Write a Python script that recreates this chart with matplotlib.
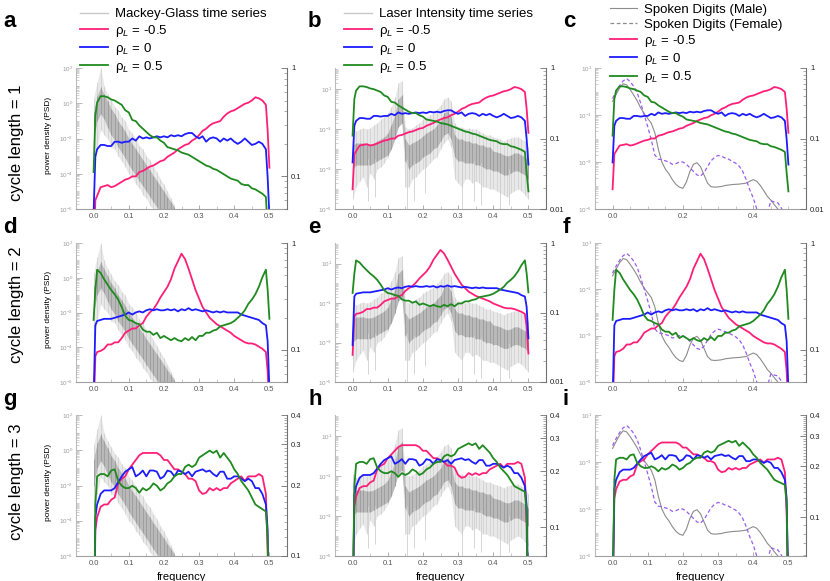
import numpy as np
import matplotlib
matplotlib.use("Agg")
import matplotlib.pyplot as plt
from matplotlib.lines import Line2D
from matplotlib.ticker import FixedLocator, FuncFormatter, NullFormatter, LogLocator, MultipleLocator

plt.rcParams['font.family'] = ['Liberation Sans', 'DejaVu Sans']
plt.rcParams['mathtext.fontset'] = 'custom'
plt.rcParams['mathtext.rm'] = 'Liberation Sans'
plt.rcParams['mathtext.it'] = 'Liberation Sans:italic'
plt.rcParams['mathtext.bf'] = 'Liberation Sans:bold'

# ---- reservoir PSD curves (dB, relative), same curves in every column of a row
freq = [0.0, 0.005] + [round(0.01 * i, 2) for i in range(1, 50)] + [0.495, 0.5]

# cycle length = 1
r1_neg = [-17.2, -12.2,
          -11.8, -11.0, -10.9, -10.8, -11.0, -10.9, -10.7, -10.5, -10.3,
          -10.2, -10.0, -10.0, -9.6, -9.5, -9.3, -9.1, -9.0, -8.8, -8.6,
          -8.5, -8.2, -8.0, -7.8, -7.5, -7.3, -7.1, -7.0, -6.7, -6.5,
          -6.2, -5.8, -5.6, -5.3, -5.1, -5.0, -4.9, -4.5, -4.2, -4.0,
          -3.9, -3.7, -3.5, -3.3, -3.2, -3.0, -2.7, -2.8, -3.0, -3.4,
          -5.8, -9.2]
r1_zero = [-13.4, -8.2,
           -7.5, -7.1, -7.1, -7.2, -7.2, -6.8, -6.8, -6.9, -6.8,
           -6.8, -6.5, -6.7, -6.3, -6.5, -6.4, -6.5, -6.4, -6.3, -6.4,
           -6.3, -6.4, -6.2, -6.3, -6.2, -6.3, -6.1, -6.0, -6.0, -6.3,
           -6.5, -6.3, -6.8, -6.5, -6.4, -6.5, -6.8, -6.5, -6.7, -6.5,
           -6.8, -7.0, -6.8, -6.5, -6.8, -7.1, -7.0, -6.8, -7.0, -7.5,
           -10.1, -13.7]
r1_pos = [-9.6, -4.4,
          -3.2, -2.6, -2.6, -2.7, -2.9, -3.0, -3.2, -3.4, -3.9,
          -4.1, -4.8, -4.9, -5.3, -5.6, -5.9, -6.2, -6.4, -6.4, -6.7,
          -6.9, -7.3, -7.4, -7.5, -7.6, -7.8, -7.9, -8.0, -8.2, -8.4,
          -8.6, -8.8, -9.0, -9.1, -9.3, -9.4, -9.6, -9.8, -10.0, -10.2,
          -10.3, -10.4, -10.7, -10.8, -10.8, -11.1, -11.2, -11.4, -11.6, -11.9,
          -14.9, -17.5]

# cycle length = 2
r2_neg = [-16.1, -10.6,
          -10.2, -10.1, -9.9, -9.5, -9.5, -9.3, -9.3, -8.9, -8.4,
          -8.2, -8.0, -8.0, -7.7, -7.5, -6.9, -6.5, -6.2, -5.7, -5.1,
          -4.6, -4.1, -3.4, -2.4, -1.7, -1.0, -1.5, -2.4, -3.4, -4.4,
          -5.2, -6.0, -6.5, -7.0, -7.3, -7.6, -7.8, -8.0, -8.2, -8.4,
          -8.7, -8.9, -9.1, -9.3, -9.4, -9.4, -9.5, -9.7, -9.9, -10.2,
          -12.0, -15.9]
r2_zero = [-14.7, -7.7,
           -7.3, -7.2, -7.1, -7.1, -7.1, -7.0, -6.9, -6.8, -6.7,
           -6.5, -6.7, -6.5, -6.4, -6.5, -6.3, -6.2, -6.3, -6.2, -6.3,
           -6.3, -6.2, -6.3, -6.2, -6.4, -6.2, -6.3, -6.1, -6.3, -6.2,
           -6.3, -6.4, -6.3, -6.4, -6.5, -6.4, -6.5, -6.4, -6.5, -6.5,
           -6.5, -6.5, -6.7, -6.8, -6.9, -7.0, -7.1, -7.2, -7.5, -7.7,
           -9.2, -13.7]
r2_pos = [-7.2, -4.4,
          -2.5, -2.8, -3.4, -3.9, -4.4, -4.8, -5.3, -6.0, -6.8,
          -7.2, -7.3, -7.5, -7.6, -8.1, -8.3, -8.3, -8.6, -8.4, -8.9,
          -8.7, -8.9, -9.1, -8.9, -9.1, -9.2, -8.9, -9.1, -8.8, -9.1,
          -8.7, -8.7, -8.4, -8.4, -8.2, -8.1, -7.8, -7.7, -7.6, -7.5,
          -7.3, -7.0, -6.7, -6.3, -5.7, -5.3, -4.8, -4.1, -3.2, -2.5,
          -4.4, -7.1]

# cycle length = 3
r3_neg = [-15.0, -8.9,
          -8.35, -7.9, -7.8, -7.8, -7.6, -7.5, -6.9, -6.7, -6.6,
          -6.3, -6.1, -5.9, -5.7, -5.6, -5.6, -5.6, -5.6, -5.6, -5.7,
          -5.9, -5.9, -6.1, -6.3, -6.3, -6.4, -6.5, -6.7, -6.7, -6.8,
          -7.2, -7.35, -7.3, -7.1, -7.2, -7.1, -7.2, -7.1, -7.1, -6.9,
          -6.8, -6.7, -6.6, -6.8, -6.6, -6.6, -6.6, -6.5, -6.6, -7.35,
          -9.8, -15.0]
r3_zero = [-15.0, -8.35,
           -7.8, -7.35, -7.2, -7.2, -7.2, -7.1, -6.85, -6.6, -6.4,
           -6.3, -6.2, -6.6, -6.5, -6.35, -6.6, -6.35, -6.35, -6.4, -6.7,
           -6.6, -6.35, -6.4, -6.6, -6.35, -6.4, -6.5, -6.4, -6.6, -6.4,
           -6.35, -6.3, -6.4, -6.35, -6.5, -6.6, -6.4, -6.4, -6.7, -6.7,
           -6.6, -6.6, -6.7, -6.8, -6.7, -6.8, -7.1, -7.1, -7.35, -7.8,
           -8.9, -15.0]
r3_pos = [-15.0, -7.8,
          -6.6, -6.5, -6.5, -6.6, -6.35, -6.3, -6.8, -7.0, -7.1,
          -7.1, -7.0, -7.1, -7.3, -7.1, -7.2, -7.1, -6.9, -7.0, -7.2,
          -7.1, -6.9, -6.8, -6.6, -6.5, -6.5, -6.2, -6.1, -6.2, -6.1,
          -5.8, -5.7, -5.6, -5.5, -5.6, -5.5, -5.8, -5.6, -5.8, -6.0,
          -6.3, -6.5, -6.8, -7.0, -7.2, -7.5, -7.8, -7.9, -8.0, -8.1,
          -9.2, -15.0]

# ---- time series spectra (log10 PSD): outer envelope and dense core
mg_freq = [round(0.01 * i, 2) for i in range(24)]
mg_hi = [0.3, 1.2, 2.0, 1.0, 0.5, 0.2, -0.2, -0.4, -0.8, -1.0, -1.5, -1.7,
         -2.0, -2.4, -2.6, -3.0, -3.2, -3.6, -3.9, -4.3, -4.6, -5.0, -5.4, -5.8]
mg_lo = [-3.5, -2.5, -1.5, -1.8, -2.0, -2.5, -2.6, -3.0, -3.3, -3.6, -4.0, -4.2,
         -4.6, -4.8, -5.2, -5.4, -5.8, -6.0, -6.5, -6.8, -7.0, -7.2, -7.4, -7.6]
mg_core_hi = [-0.5, 0.4, 0.9, 0.5, 0.1, -0.3, -0.6, -1.0, -1.3, -1.6, -2.0, -2.3,
              -2.6, -2.9, -3.2, -3.5, -3.8, -4.1, -4.4, -4.7, -5.0, -5.3, -5.6, -5.9]
mg_core_lo = [-2.0, -1.0, -0.6, -0.9, -1.4, -1.8, -2.1, -2.5, -2.8, -3.1, -3.5, -3.8,
              -4.1, -4.4, -4.7, -5.0, -5.3, -5.6, -5.9, -6.2, -6.5, -6.8, -7.1, -7.4]

laser_freq = [round(0.01 * i, 2) for i in range(51)]
laser_hi = [-0.9, -1.1, -1.0, -0.95, -1.0, -0.95, -0.8, -0.7, -0.5, -0.4,
            -0.2, 0.1, 0.6, 1.3, 1.4, -0.9, -1.0, -0.95, -0.8, -0.7,
            -0.5, -0.4, -0.3, -0.2, 0.0, 0.2, 0.5, 0.6, 0.4, -0.7,
            -0.9, -0.9, -1.0, -0.95, -1.0, -1.0, -1.1, -1.2, -1.3, -1.3,
            -1.4, -1.45, -1.5, -1.6, -1.5, -1.45, -1.4, -1.4, -1.5, -1.6, -1.9]
laser_lo = [-4.5, -3.9, -3.6, -3.4, -3.9, -3.2, -3.5, -3.0, -2.9, -2.7,
            -2.4, -2.0, -1.4, -0.7, -0.5, -3.9, -3.9, -3.5, -3.4, -3.2,
            -3.0, -2.9, -2.7, -2.5, -2.4, -2.0, -1.7, -1.5, -1.9, -3.5,
            -3.7, -3.9, -3.5, -3.5, -3.7, -3.6, -3.7, -3.9, -3.9, -4.0,
            -4.0, -4.1, -4.2, -4.3, -4.4, -4.2, -4.1, -4.0, -4.1, -4.3, -4.5]
laser_core_hi = [-1.8, -1.7, -1.7, -1.7, -1.75, -1.75, -1.7, -1.6, -1.5, -1.4,
                 -1.2, -0.8, -0.3, 0.5, 0.7, -1.5, -1.8, -1.7, -1.6, -1.5,
                 -1.35, -1.2, -1.1, -1.0, -0.8, -0.6, -0.2, -0.1, -0.4, -1.3,
                 -1.5, -1.5, -1.6, -1.6, -1.7, -1.7, -1.8, -1.8, -1.9, -1.9,
                 -2.1, -2.15, -2.2, -2.3, -2.35, -2.3, -2.2, -2.2, -2.3, -2.4, -2.6]
laser_core_lo = [-3.0, -2.8, -2.8, -2.8, -2.8, -2.8, -2.7, -2.6, -2.5, -2.4,
                 -2.3, -2.0, -1.5, -0.9, -0.7, -2.6, -3.0, -2.8, -2.7, -2.6,
                 -2.4, -2.3, -2.2, -2.0, -1.9, -1.6, -1.3, -1.2, -1.5, -2.4,
                 -2.6, -2.6, -2.7, -2.7, -2.7, -2.8, -2.8, -2.9, -3.0, -3.0,
                 -3.1, -3.1, -3.2, -3.3, -3.3, -3.2, -3.1, -3.1, -3.2, -3.3, -3.5]
laser_dip_freq = [0.045, 0.065, 0.155, 0.175, 0.205, 0.31, 0.345, 0.365, 0.42, 0.445]
laser_dip_lo = [-4.6, -4.4, -5.0, -4.6, -4.2, -5.0, -4.6, -4.8, -5.0, -4.8]
laser_dip_hi = [-2.5, -2.5, -2.5, -2.6, -2.3, -2.6, -2.6, -2.7, -3.0, -3.0]

spk_freq = [round(0.01 * i, 2) for i in range(51)]
spk_male = [-0.42, -0.13, 0.15, 0.33, 0.28, 0.08, -0.15, -0.4, -0.7, -0.95,
            -1.15, -1.35, -1.75, -2.45, -3.0, -3.3, -3.5, -3.75, -3.95, -4.07,
            -4.12, -3.85, -3.4, -3.1, -3.03, -3.2, -3.55, -3.9, -4.05, -4.07,
            -4.06, -4.04, -4.0, -3.98, -3.96, -3.95, -3.94, -3.92, -3.9, -3.82,
            -3.75, -3.82, -4.0, -4.22, -4.46, -4.62, -4.82, -5.0, -5.3, -5.6, -5.9]
spk_female = [-0.3, 0.0, 0.25, 0.45, 0.55, 0.42, 0.22, -0.05, -0.5, -1.0,
              -1.5, -2.05, -2.7, -2.88, -2.9, -2.95, -3.0, -3.1, -3.07, -3.0,
              -3.0, -3.1, -3.25, -3.4, -3.55, -3.6, -3.45, -3.2, -2.95, -2.8,
              -2.72, -2.76, -2.83, -2.88, -2.97, -3.05, -3.18, -3.4, -3.75, -4.18,
              -4.53, -5.0, -5.5, -5.6, -5.2, -4.65, -4.7, -4.74, -4.96, -5.4, -5.8]

row_curves = [(r1_neg, r1_zero, r1_pos), (r2_neg, r2_zero, r2_pos), (r3_neg, r3_zero, r3_pos)]
row_names = ['cycle length = 1', 'cycle length = 2', 'cycle length = 3']
letters = [['a', 'b', 'c'], ['d', 'e', 'f'], ['g', 'h', 'i']]

left_lims = [(1e-6, 1e2), (1e-5, 10 ** 2.05), (1e-5, 1e1)]
left_major = [[1e-6, 1e-4, 1e-2, 1e0, 1e2], [1e-5, 1e-3, 1e-1, 1e1], [1e-5, 1e-3, 1e-1, 1e1]]
right_lims = [[(0.05, 1), (0.01, 1), (0.01, 1)],
              [(0.05, 1), (0.01, 1), (0.05, 1)],
              [(0.1, 0.4), (0.07, 0.4), (0.059, 0.4)]]

PINK = '#ff1f78'
BLUE = '#1c1cff'
GREEN = '#1f8a1f'
rho = r'ρ$_{\mathit{L}}$'


def lin(db):
    return 10 ** (np.array(db) / 10.0)


def exp10(v):
    return 10 ** np.array(v)


def pow_fmt(v, pos):
    return r'$10^{%d}$' % int(round(np.log10(v)))


def draw_noise(ax, f, lo, hi, core_lo, core_hi):
    ax.fill_between(f, exp10(lo), exp10(hi), color='#e8e8e8', lw=0)
    ax.vlines(f, exp10(lo), exp10(hi), color='#cdcdcd', lw=0.5)
    ax.fill_between(f, exp10(core_lo), exp10(core_hi), color='#b9b9b9', lw=0)
    ax.vlines(f, exp10(core_lo), exp10(core_hi), color='#8f8f8f', lw=0.5)


W, H = 830.0, 581.0
col_left = [76, 335, 595]
row_top = [68, 243, 415]
row_bot = [209, 382, 556]
letter_x = [3, 308, 563]
letter_base = [27, 233, 405]
name_y = [143, 305, 482]

fig = plt.figure(figsize=(8.3, 5.81), dpi=100)

for r in range(3):
    for c in range(3):
        ax = fig.add_axes([col_left[c] / W, 1 - row_bot[r] / H, 211 / W, (row_bot[r] - row_top[r]) / H])
        ax.set_yscale('log')
        ax.set_xlim(-0.05, 0.55)
        ax.set_ylim(*left_lims[c])

        if c == 0:
            draw_noise(ax, mg_freq, mg_lo, mg_hi, mg_core_lo, mg_core_hi)
            ts_handle = Line2D([], [], color='#c8c8c8', lw=1.0)
        elif c == 1:
            ax.vlines(laser_dip_freq, exp10(laser_dip_lo), exp10(laser_dip_hi), color='#cfcfcf', lw=0.6)
            draw_noise(ax, laser_freq, laser_lo, laser_hi, laser_core_lo, laser_core_hi)
            ts_handle = Line2D([], [], color='#c8c8c8', lw=1.0)
        else:
            male, = ax.plot(spk_freq, exp10(spk_male), color='#8c8c8c', lw=0.8)
            ax.plot(spk_freq, exp10(spk_female), color='#9a5cf0', lw=0.9, ls=(0, (3, 2)))

        ax.spines['top'].set_visible(False)
        ax.spines['right'].set_visible(False)
        ax.spines['left'].set_color('#bbbbbb')
        ax.spines['bottom'].set_color('#a0a0a0')
        ax.yaxis.set_major_locator(FixedLocator(left_major[c]))
        ax.yaxis.set_major_formatter(FuncFormatter(pow_fmt))
        ax.yaxis.set_minor_locator(LogLocator(base=10, subs=np.arange(1, 10), numticks=100))
        ax.yaxis.set_minor_formatter(NullFormatter())
        ax.tick_params(axis='y', which='both', direction='in', color='#b0b0b0',
                       labelcolor='#9a9a9a', labelsize=4.5, pad=2)
        ax.tick_params(axis='y', which='major', length=4, width=0.6)
        ax.tick_params(axis='y', which='minor', length=2, width=0.4)

        if c == 2 and r < 2:
            ax.xaxis.set_major_locator(FixedLocator([0.0, 0.2, 0.4]))
        else:
            ax.xaxis.set_major_locator(MultipleLocator(0.1))
        ax.xaxis.set_minor_locator(MultipleLocator(0.05))
        ax.xaxis.set_major_formatter(FuncFormatter(lambda v, p: '%.1f' % v))
        ax.tick_params(axis='x', which='both', direction='in', color='#a0a0a0',
                       labelcolor='#555555', labelsize=5.5, pad=3)
        ax.tick_params(axis='x', which='major', length=3, width=0.6)
        ax.tick_params(axis='x', which='minor', length=2, width=0.4)

        if c == 0:
            ax.set_ylabel('power density (PSD)', fontsize=6)
            ax.yaxis.set_label_coords(-0.115, 0.52)
        if r == 2:
            ax.set_xlabel('frequency', fontsize=8)
            ax.xaxis.set_label_coords(0.5, -0.11)

        ax2 = ax.twinx()
        ax2.set_yscale('log')
        neg, zero, pos = row_curves[r]
        l_neg, = ax2.plot(freq, lin(neg), color=PINK, lw=1.3)
        l_zero, = ax2.plot(freq, lin(zero), color=BLUE, lw=1.3)
        l_pos, = ax2.plot(freq, lin(pos), color=GREEN, lw=1.3)
        ax2.set_ylim(*right_lims[r][c])
        ax2.set_xlim(-0.05, 0.55)
        for s in ['top', 'left', 'bottom']:
            ax2.spines[s].set_visible(False)
        ax2.spines['right'].set_color('#707070')
        if r < 2:
            ax2.yaxis.set_major_locator(FixedLocator([0.01, 0.1, 1]))
            ax2.yaxis.set_minor_locator(LogLocator(base=10, subs=np.arange(2, 10), numticks=100))
        else:
            ax2.yaxis.set_major_locator(FixedLocator([0.1, 0.2, 0.3, 0.4]))
            ax2.yaxis.set_minor_locator(FixedLocator(np.arange(0.06, 0.4, 0.01)))
        ax2.yaxis.set_major_formatter(FuncFormatter(lambda v, p: '%g' % v))
        ax2.yaxis.set_minor_formatter(NullFormatter())
        ax2.tick_params(axis='y', which='both', direction='in', color='#707070',
                        labelcolor='#222222', labelsize=5.5, pad=3)
        ax2.tick_params(axis='y', which='major', length=4, width=0.6)
        ax2.tick_params(axis='y', which='minor', length=2, width=0.4)

        if r == 0:
            labels_rho = [rho + ' = -0.5', rho + ' = 0', rho + ' = 0.5']
            if c == 0:
                handles = [ts_handle, l_neg, l_zero, l_pos]
                labels = ['Mackey-Glass time series'] + labels_rho
                anchor = (0.02, 1.425)
            elif c == 1:
                handles = [ts_handle, l_neg, l_zero, l_pos]
                labels = ['Laser Intensity time series'] + labels_rho
                anchor = (0.045, 1.425)
            else:
                fem = Line2D([], [], color='#8c8c8c', lw=0.9, ls=(0, (3, 2)))
                handles = [male, fem, l_neg, l_zero, l_pos]
                labels = ['Spoken Digits (Male)', 'Spoken Digits (Female)'] + labels_rho
                anchor = (0.07, 1.455)
            ax2.legend(handles, labels, loc='upper left', bbox_to_anchor=anchor,
                       frameon=False, fontsize=9.5, borderpad=0, borderaxespad=0,
                       handlelength=2.1, handletextpad=0.5, labelspacing=0.17)

        fig.text(letter_x[c] / W, 1 - letter_base[r] / H, letters[r][c],
                 fontsize=16, fontweight='bold', va='baseline', ha='left')

    fig.text(17 / W, 1 - name_y[r] / H, row_names[r], rotation=90,
             ha='center', va='center', fontsize=12)

fig.savefig('out.png', dpi=100)
